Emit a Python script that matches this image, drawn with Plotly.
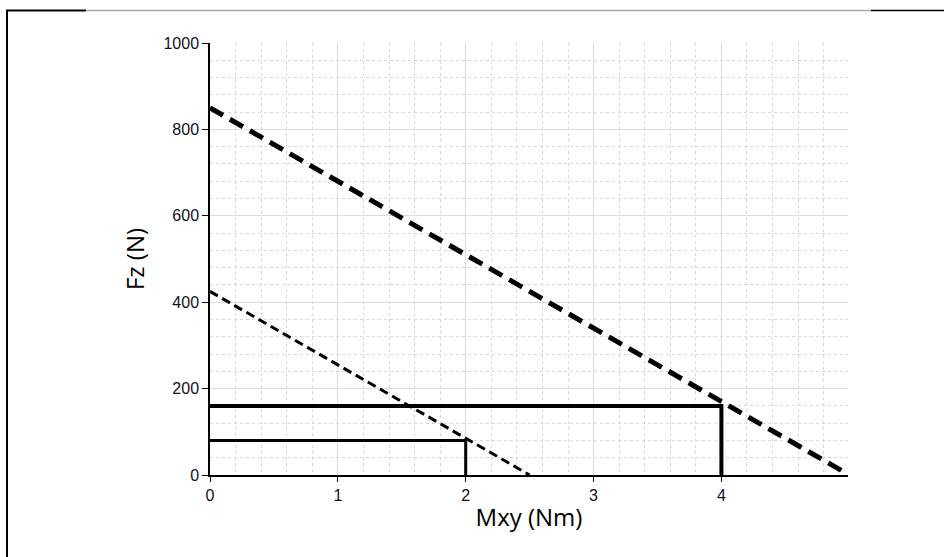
import plotly.graph_objects as go

# Data
limit_high_mxy = [0, 5]
limit_high_fz = [850, 0]
limit_low_mxy = [0, 2.5]
limit_low_fz = [425, 0]
op_high_mxy = [0, 4, 4]
op_high_fz = [160, 160, 0]
op_low_mxy = [0, 2, 2]
op_low_fz = [80, 80, 0]

W, H = 944, 557
L, R, T, B = 210, 96, 43, 82
pw, ph = W - L - R, H - T - B

fig = go.Figure()
fig.add_trace(go.Scatter(x=limit_high_mxy, y=limit_high_fz, mode="lines",
                         line=dict(color="black", width=5, dash="15px,8px")))
fig.add_trace(go.Scatter(x=limit_low_mxy, y=limit_low_fz, mode="lines",
                         line=dict(color="black", width=3, dash="9px,5px")))
fig.add_trace(go.Scatter(x=op_high_mxy, y=op_high_fz, mode="lines",
                         line=dict(color="black", width=4)))
fig.add_trace(go.Scatter(x=op_low_mxy, y=op_low_fz, mode="lines",
                         line=dict(color="black", width=3)))

def px_x(x):
    return (x - L) / pw

def px_y(y):
    return (H - B - y) / ph

# frame decoration
corner = "M {a},{b} L {c},{d} L {e},{f}".format(
    a=px_x(7), b=px_y(565), c=px_x(7), d=px_y(10.5), e=px_x(86), f=px_y(10.5))
shapes = [
    dict(type="path", xref="paper", yref="paper", path=corner,
         line=dict(color="black", width=2)),
    dict(type="line", xref="paper", yref="paper", x0=px_x(86), x1=px_x(871), y0=px_y(10.5), y1=px_y(10.5),
         line=dict(color="#aaaaaa", width=1.5)),
    dict(type="line", xref="paper", yref="paper", x0=px_x(871), x1=px_x(944), y0=px_y(10.5), y1=px_y(10.5),
         line=dict(color="black", width=1.5)),
]

tickfont = dict(family="Liberation Sans, Arial, sans-serif", size=16, color="#111122")
titlefont = dict(family="Open Sans, sans-serif", size=24, color="#000")

fig.update_layout(
    width=W, height=H,
    margin=dict(l=L, r=R, t=T, b=B),
    paper_bgcolor="white", plot_bgcolor="white",
    showlegend=False,
    shapes=shapes,
    xaxis=dict(range=[0, 4.99], dtick=1, tick0=0, showgrid=True, gridcolor="#dcdcdc", gridwidth=1,
               showline=True, linecolor="black", linewidth=1.5, ticks="outside", ticklen=5,
               tickcolor="black", tickfont=tickfont, zeroline=False,
               minor=dict(dtick=0.2, showgrid=True, gridcolor="#d8d8d8", griddash="dot", gridwidth=1),
               title=dict(text="Mxy (Nm)", font=titlefont, standoff=6)),
    yaxis=dict(range=[0, 1000], dtick=200, tick0=0, showgrid=True, gridcolor="#dcdcdc", gridwidth=1,
               showline=True, linecolor="black", linewidth=1.5, ticks="outside", ticklen=6,
               tickcolor="black", tickfont=tickfont, zeroline=False,
               minor=dict(dtick=40, showgrid=True, gridcolor="#d8d8d8", griddash="dot", gridwidth=1),
               title=dict(text="Fz (N)", font=titlefont, standoff=12)),
)

fig.write_html("out.html")
